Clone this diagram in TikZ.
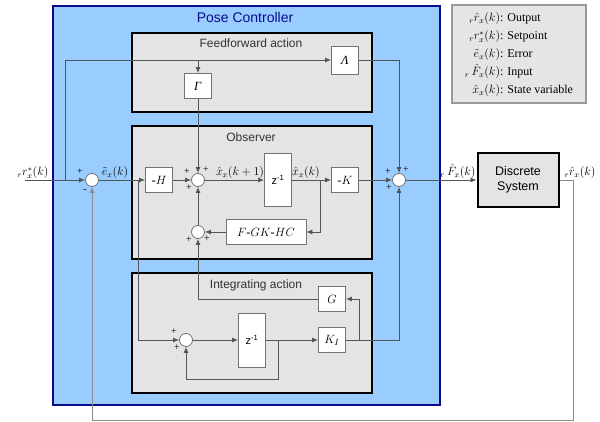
\documentclass[tikz,border=0pt]{standalone}
\usepackage{amsmath}
\usepackage{fontspec}
\setmainfont{Liberation Serif}
\setsansfont{Liberation Sans}
\usetikzlibrary{arrows.meta}

\definecolor{ctrlblue}{RGB}{153,204,255}
\definecolor{ctrlframe}{RGB}{10,10,140}
\definecolor{grpgray}{RGB}{228,228,228}
\definecolor{wire}{RGB}{85,85,85}
\definecolor{loopgray}{RGB}{140,140,140}

\begin{document}
\begin{tikzpicture}
	 [x=1pt,y=-1pt,>={Latex[length=6pt,width=5pt]},
	  every node/.style={inner sep=0pt},
	  grp/.style={draw=black,line width=1.8pt,fill=grpgray},
	  blk/.style={draw=black!55,line width=0.8pt,fill=white,minimum width=27pt,minimum height=25pt,font=\fontsize{12.5}{14}\selectfont},
	  sumnode/.style={circle,draw=black!55,line width=0.8pt,fill=white,minimum size=13pt},
	  sgn/.style={font=\fontsize{10}{10}\selectfont},
	  lbl/.style={font=\fontsize{12}{14}\selectfont,anchor=south,inner sep=1pt},
	  ttl/.style={font=\sffamily\fontsize{12}{14}\selectfont,text=black!80},
	  wires/.style={draw=wire,line width=0.8pt},
	  fbloop/.style={draw=loopgray,line width=0.8pt}]
	\useasboundingbox (0,0) rectangle (600,422);

	% frames
	\draw[draw=ctrlframe,line width=2.6pt,fill=ctrlblue] (53,6) rectangle (440,405);
	\node[font=\sffamily\fontsize{14}{16}\selectfont,text=ctrlframe] (tPose) at (245,17) {Pose Controller};

	\draw[grp] (132,33) rectangle (372,112);
	\draw[grp] (132,126) rectangle (372,259);
	\draw[grp] (132,273) rectangle (372,393);
	\node[ttl] (tFF) at (251,43) {Feedforward action};
	\node[ttl] (tObs) at (251,137) {Observer};
	\node[ttl] (tInt) at (256,285) {Integrating action};

	% legend
	\node[draw=black!40,line width=1.2pt,fill=black!10,minimum width=134pt,minimum height=98pt,font=\fontsize{12}{14}\selectfont] (legend) at (519,54)
	  {\renewcommand\arraystretch{1.28}\begin{tabular}{@{}r@{: }l@{}}
	   ${}_r\hat{r}_x(k)$ & Output\\
	   ${}_r r^{*}_x(k)$ & Setpoint\\
	   $\tilde{e}_x(k)$ & Error\\
	   ${}_r\,\hat{F}_x(k)$ & Input\\
	   $\hat{x}_x(k)$ & State variable
	   \end{tabular}};

	% summing points
	\node[sumnode] (sumE) at (92,180) {};
	\node[sumnode] (sumO) at (198,180) {};
	\node[sumnode] (sumF) at (198,232) {};
	\node[sumnode] (sumU) at (399,180) {};
	\node[sumnode] (sumI) at (186,340) {};

	% blocks
	\node[blk] (blkGam) at (198,86) {\textit{Γ}};
	\node[blk,minimum height=28pt] (blkLam) at (345,60) {\textit{Λ}};
	\node[blk] (blkH) at (159,180) {-$H$};
	\node[blk,minimum height=53pt,font=\sffamily\fontsize{11}{13}\selectfont] (zObs) at (278,180) {z\textsuperscript{-1}};
	\node[blk] (blkK) at (345,180) {-$K$};
	\node[blk,minimum width=80pt] (blkFGK) at (266,232) {$F$-$GK$-$HC$};
	\node[blk] (blkG) at (332,299) {$G$};
	\node[blk,minimum height=54pt,font=\sffamily\fontsize{11}{13}\selectfont] (zInt) at (252,340) {z\textsuperscript{-1}};
	\node[blk] (blkKI) at (332,340) {$K_I$};
	\node[draw=black,line width=2pt,fill=grpgray,minimum width=81pt,minimum height=54pt,align=center,font=\sffamily\fontsize{12.5}{15}\selectfont] (plant) at (518,180) {Discrete\\System};

	% branch points
	\coordinate (rin) at (25,180);
	\coordinate (ffTap) at (65,180);
	\coordinate (gamTap) at (198,60);
	\coordinate (eTap) at (138,180);
	\coordinate (xTap) at (320,180);
	\coordinate (kiTap) at (359,340);
	\coordinate (zTap) at (278,340);
	\coordinate (zLow) at (278,379);
	\coordinate (yTap) at (573,180);
	\coordinate (yLow) at (573,420);

	\foreach \from/\to in {rin/sumE,sumE/blkH,blkH/sumO,sumO/zObs,zObs/blkK,blkK/sumU,sumU/plant,blkFGK/sumF,sumF/sumO,gamTap/blkGam,blkGam/sumO,sumI/zInt,zInt/blkKI}
    \draw[wires,->] (\from) -- (\to);

	\draw[wires,->] (ffTap) |- (blkLam);
	\draw[wires,->] (blkLam) -| (sumU);
	\draw[wires,->] (eTap) |- (sumI);
	\draw[wires,->] (xTap) |- (blkFGK);
	\draw[wires,->] (blkG) -| (sumF);
	\draw[wires,->] (blkKI) -| (sumU);
	\draw[wires,->] (kiTap) |- (blkG);
	\draw[wires,->] (zTap) -- (zLow) -| (sumI);
	\draw[fbloop,->] (plant) -- (yTap) -- (yLow) -| (sumE);

	% signal labels
	\node[lbl] (lR) at (33,180) {${}_r r^{*}_x(k)$};
	\node[lbl] (lE) at (115,180) {$\tilde{e}_x(k)$};
	\node[lbl] (lX1) at (240,180) {$\hat{x}_x(k+1)$};
	\node[lbl] (lX) at (306,180) {$\hat{x}_x(k)$};
	\node[lbl] (lF) at (458,180) {${}_r\,\hat{F}_x(k)$};
	\node[lbl] (lY) at (580,180) {${}_r\hat{r}_x(k)$};

	% signs
	\foreach \xx/\yy/\s [count=\i] in {80/172/+,85/191/-,187/172/+,206/170/+,189/188/+,189/240/+,207/239/+,388/172/+,406/170/+,389/188/+,174/332/+,177/348/+}
    \node[sgn] (sg\i) at (\xx,\yy) {\s};

\end{tikzpicture}
\end{document}
